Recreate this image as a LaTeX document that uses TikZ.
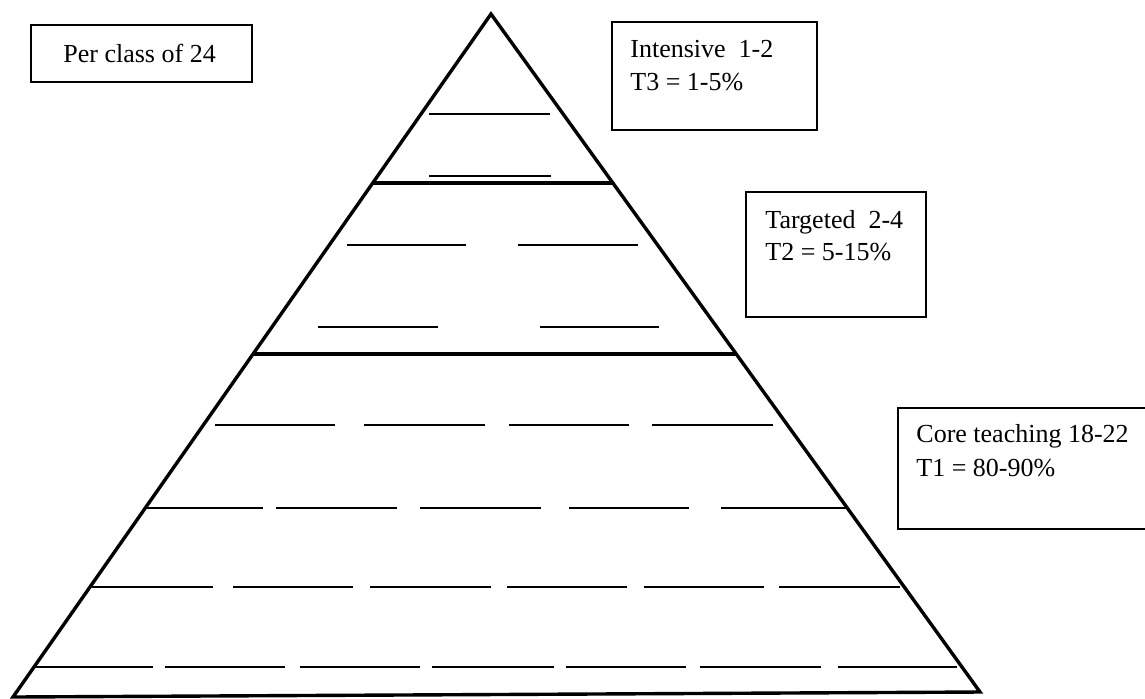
\documentclass[tikz,border=0pt]{standalone}
\usepackage{fontspec}
\setmainfont{Liberation Serif}
\tikzset{
  tier/.style={line width=1.7pt},
  blank/.style={line width=1pt},
  tbox/.style={line width=0.8pt},
  tlabel/.style={anchor=base west, inner sep=0pt, font=\fontsize{13}{16}\selectfont}
}
\begin{document}
\begin{tikzpicture}[x=0.5pt,y=-0.5pt]
  \clip (0,0) rectangle (1145,698);
  \fill[white] (0,0) rectangle (1145,698);

  % pyramid
  \coordinate (apex) at (491,14);
  \coordinate (bl) at (13,697);
  \coordinate (br) at (980,692);
  \draw[tier] (apex) -- (bl) -- (br) -- cycle;
  \draw[tier] (373,183) -- (613,183);
  \draw[tier] (253,354) -- (736,354);

  % write-in lines
  \foreach \y/\xa/\xb in {114/429/550, 176/429/551,
      245/347/466, 245/518/638, 327/318/438, 327/540/659,
      425/215/335, 425/364/485, 425/509/629, 425/652/773,
      508/147/263, 508/276/397, 508/420/541, 508/569/689, 508/721/847,
      587/92/213, 587/233/353, 587/370/491, 587/507/627, 587/644/764, 587/779/900,
      667/34/153, 667/165/285, 667/300/420, 667/432/554, 667/566/686, 667/700/821, 667/838/957}
    \draw[blank] (\xa,\y) -- (\xb,\y);

  % boxes
  \draw[tbox] (31,25) rectangle (252,82);
  \node[tlabel] (perclass) at (63,62) {Per class of 24};

  \draw[tbox] (612,22) rectangle (817,130);
  \node[tlabel] (t3name) at (630,57) {Intensive\ \ 1-2};
  \node[tlabel] (t3pct) at (630,90) {T3 = 1-5\%};

  \draw[tbox] (746,192) rectangle (926,317);
  \node[tlabel] (t2name) at (765,228) {Targeted\ \ 2-4};
  \node[tlabel] (t2pct) at (765,260) {T2 = 5-15\%};

  \draw[tbox] (898,408) rectangle (1160,529);
  \node[tlabel] (t1name) at (916,442) {Core teaching 18-22};
  \node[tlabel] (t1pct) at (916,476) {T1 = 80-90\%};
\end{tikzpicture}
\end{document}
